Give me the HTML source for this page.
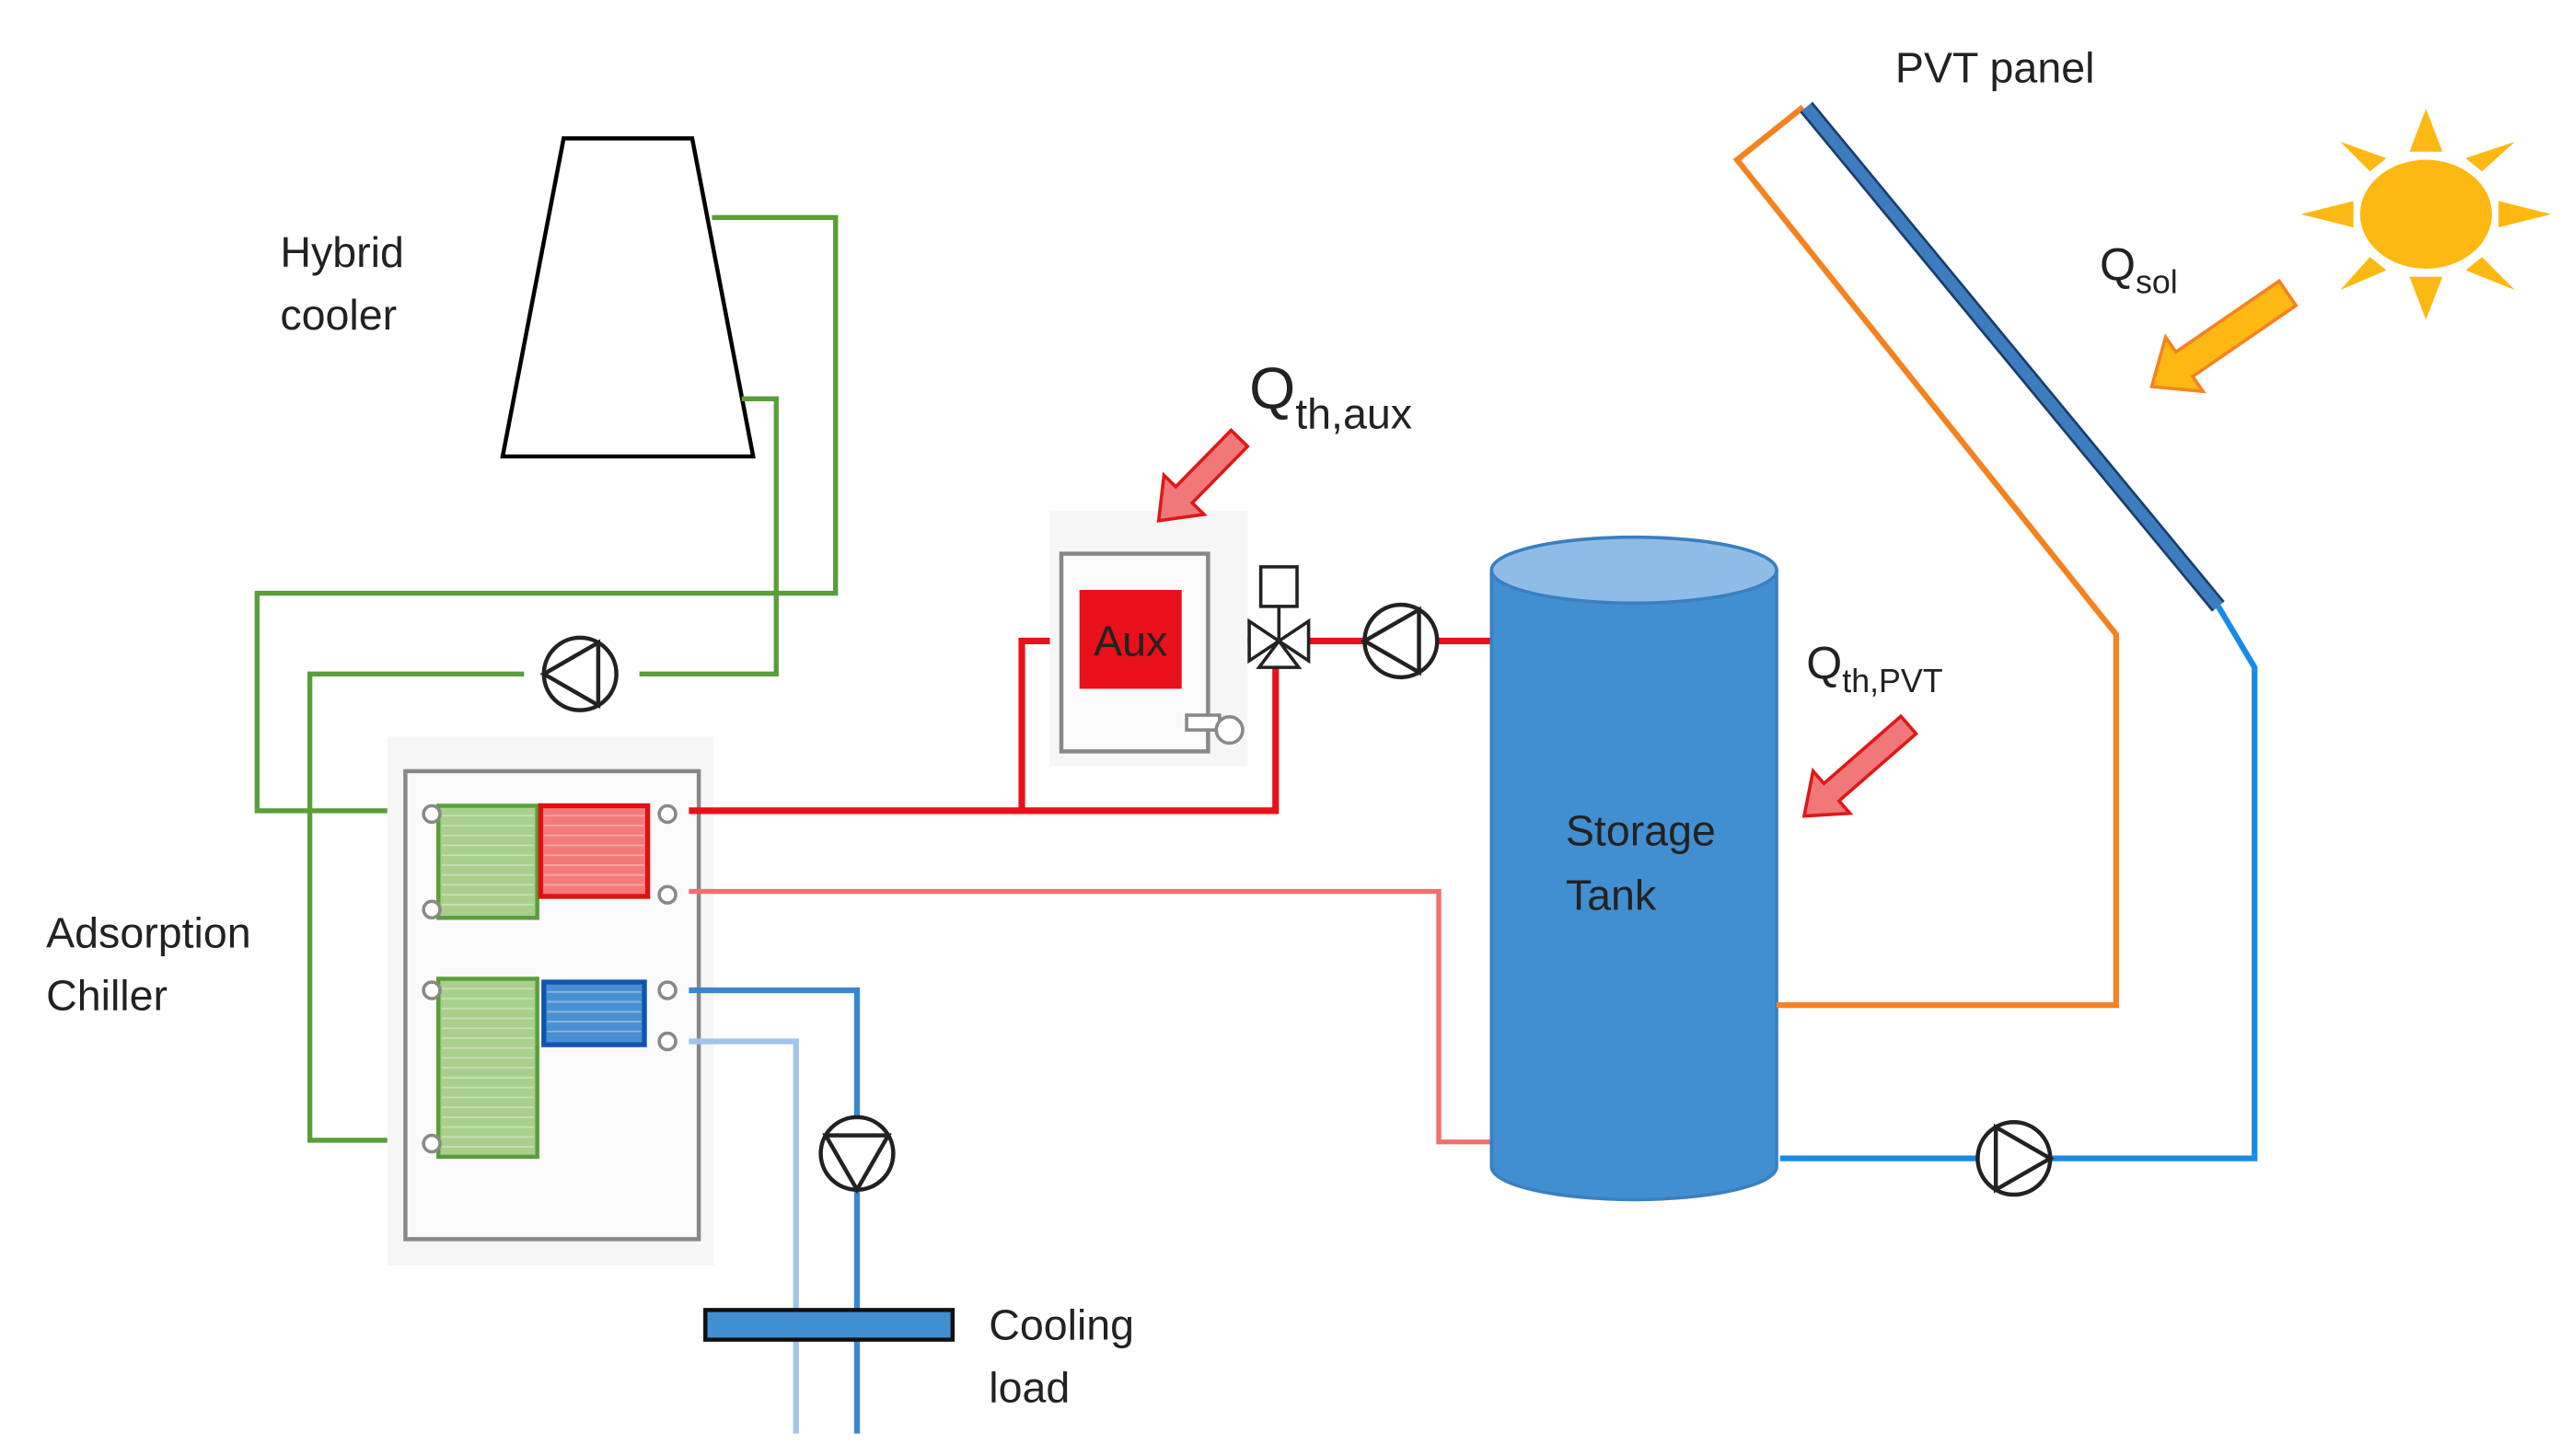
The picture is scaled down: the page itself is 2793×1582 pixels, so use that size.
<!DOCTYPE html>
<html><head><meta charset="utf-8"><style>
html,body{margin:0;padding:0;background:#fff;}
svg{display:block;}
text{font-family:"Liberation Sans",sans-serif;fill:#222;}
</style></head><body>
<svg width="2793" height="1582" viewBox="0 0 1560 883.6" preserveAspectRatio="none" xmlns="http://www.w3.org/2000/svg">
<polygon points="342,84 420,84 457,277 305,277" fill="#fff" stroke="#000" stroke-width="2.5"/>
<g fill="none" stroke="#5a9e3a" stroke-width="3">
<polyline points="432,132 507,132 507,360 156,360 156,492 262,492"/>
<polyline points="450,242 471,242 471,409 388,409"/>
<polyline points="318,409 188,409 188,692 262,692"/>
</g>
<circle cx="352" cy="409" r="22" fill="#fff" stroke="#222" stroke-width="2.5"/>
<polygon points="330,409 363,390 363,428" fill="none" stroke="#222" stroke-width="2.5"/>
<rect x="235" y="447" width="198" height="321" fill="#f6f6f6"/>
<rect x="246" y="468" width="178" height="284" fill="#fafafa" stroke="#888" stroke-width="2.5"/>
<rect x="266" y="489" width="60" height="68" fill="#a9cf8c" stroke="#5a9e3a" stroke-width="2.5"/>
<rect x="328" y="489" width="65" height="55" fill="#f47a7a" stroke="#e01010" stroke-width="3"/>
<rect x="266" y="594" width="60" height="108" fill="#a9cf8c" stroke="#5a9e3a" stroke-width="2.5"/>
<rect x="330" y="596" width="61" height="38" fill="#4a8fd0" stroke="#1055b0" stroke-width="3"/>
<g stroke="#ffffff" stroke-opacity="0.35" stroke-width="1">
<path d="M268 495h56M268 501h56M268 507h56M268 513h56M268 519h56M268 525h56M268 531h56M268 537h56M268 543h56M268 549h56"/>
<path d="M330 495h61M330 501h61M330 507h61M330 513h61M330 519h61M330 525h61M330 531h61M330 537h61"/>
<path d="M268 600h56M268 606h56M268 612h56M268 618h56M268 624h56M268 630h56M268 636h56M268 642h56M268 648h56M268 654h56M268 660h56M268 666h56M268 672h56M268 678h56M268 684h56M268 690h56M268 696h56"/>
<path d="M332 602h57M332 608h57M332 614h57M332 620h57M332 626h57"/>
</g>
<g fill="#fff" stroke="#888" stroke-width="2">
<circle cx="262" cy="494" r="5"/><circle cx="262" cy="552" r="5"/><circle cx="262" cy="601" r="5"/><circle cx="262" cy="694" r="5"/>
<circle cx="405" cy="494" r="5"/><circle cx="405" cy="543" r="5"/><circle cx="405" cy="601" r="5"/><circle cx="405" cy="632" r="5"/>
</g>
<g fill="none" stroke="#e8101a" stroke-width="4">
<polyline points="418,492 774,492 774,405"/>
<polyline points="620,492 620,389 655,389"/>
<line x1="717" y1="389" x2="760" y2="389"/>
<line x1="788" y1="389" x2="828" y2="389"/>
<line x1="872" y1="389" x2="905" y2="389"/>
</g>
<rect x="637" y="310" width="120" height="155" fill="#f6f6f6"/>
<rect x="644" y="336" width="89" height="120" fill="#fafafa" stroke="#888" stroke-width="2.5"/>
<rect x="655" y="358" width="62" height="60" fill="#e8101a"/>
<text x="686" y="398" font-size="26" text-anchor="middle" fill="#222">Aux</text>
<rect x="720" y="434" width="20" height="9" fill="#fff" stroke="#888" stroke-width="2"/>
<circle cx="746" cy="443" r="8" fill="#fff" stroke="#888" stroke-width="2"/>
<rect x="765" y="344" width="22" height="24" fill="#fff" stroke="#222" stroke-width="2"/>
<line x1="776" y1="368" x2="776" y2="389" stroke="#222" stroke-width="2"/>
<polygon points="758,377 776,389 758,401" fill="#fff" stroke="#222" stroke-width="2"/>
<polygon points="794,377 776,389 794,401" fill="#fff" stroke="#222" stroke-width="2"/>
<polygon points="764,405 776,389 788,405" fill="#fff" stroke="#222" stroke-width="2"/>
<circle cx="850" cy="389" r="22" fill="#fff" stroke="#222" stroke-width="2.5"/>
<polygon points="828,389 861,370 861,408" fill="none" stroke="#222" stroke-width="2.5"/>
<polyline points="418,541 873,541 873,693 906,693" fill="none" stroke="#f07070" stroke-width="3"/>
<polyline points="418,601 520,601 520,870" fill="none" stroke="#3a86d0" stroke-width="3.5"/>
<polyline points="418,632 483,632 483,870" fill="none" stroke="#a0c4ea" stroke-width="3.5"/>
<circle cx="520" cy="700" r="22" fill="#fff" stroke="#222" stroke-width="2.5"/>
<polygon points="520,722 501,689 539,689" fill="none" stroke="#222" stroke-width="2.5"/>
<rect x="428" y="795" width="150" height="18" fill="#418fd0" stroke="#111" stroke-width="2.5"/>
<path d="M905,346 L905,708 A86.5,20 0 0 0 1078,708 L1078,346 Z" fill="#418fd0" stroke="#3a7fbf" stroke-width="2"/>
<ellipse cx="991.5" cy="346" rx="86.5" ry="20" fill="#8fbce6" stroke="#3a7fbf" stroke-width="2"/>
<text x="950" y="513" font-size="26">Storage</text>
<text x="950" y="552" font-size="26">Tank</text>
<polyline points="1078,610 1284,610 1284,385 1054,97 1094,65" fill="none" stroke="#f58220" stroke-width="3.5"/>
<line x1="1096" y1="65" x2="1346" y2="368" stroke="#1a3e6a" stroke-width="10"/>
<line x1="1096" y1="65" x2="1346" y2="368" stroke="#3e7cc0" stroke-width="7"/>
<polyline points="1346,368 1368,405 1368,703 1244,703" fill="none" stroke="#1a8ae8" stroke-width="3.5"/>
<line x1="1200" y1="703" x2="1080" y2="703" stroke="#1a8ae8" stroke-width="3.5"/>
<circle cx="1222" cy="703" r="22" fill="#fff" stroke="#222" stroke-width="2.5"/>
<polygon points="1244,703 1211,684 1211,722" fill="none" stroke="#222" stroke-width="2.5"/>
<g fill="#fdb813">
<ellipse cx="1472" cy="130" rx="40" ry="33"/>
<polygon points="1462,92 1472,66 1482,92"/>
<polygon points="1462,168 1472,194 1482,168"/>
<polygon points="1428,122 1396,130 1428,138"/>
<polygon points="1516,122 1548,130 1516,138"/>
<polygon points="1438,104 1420,86 1448,96"/>
<polygon points="1506,104 1526,86 1496,96"/>
<polygon points="1438,156 1420,176 1448,164"/>
<polygon points="1506,156 1526,176 1496,164"/>
</g>
<g transform="translate(752,266) rotate(134.4)"><polygon points="0,-7 48,-7 48,-17 70,0 48,17 48,7 0,7" fill="#f07878" stroke="#e01818" stroke-width="2"/></g>
<g transform="translate(1388,178) rotate(145.5)"><polygon points="0,-9 76,-9 76,-20 100,0 76,20 76,9 0,9" fill="#fdb813" stroke="#f58220" stroke-width="2"/></g>
<g transform="translate(1158,440) rotate(138.9)"><polygon points="0,-7 62,-7 62,-17 84,0 62,17 62,7 0,7" fill="#f07878" stroke="#e01818" stroke-width="2"/></g>
<text x="170" y="162" font-size="26">Hybrid</text>
<text x="170" y="200" font-size="26">cooler</text>
<text x="28" y="575" font-size="26">Adsorption</text>
<text x="28" y="613" font-size="26">Chiller</text>
<text x="600" y="813" font-size="26">Cooling</text>
<text x="600" y="851" font-size="26">load</text>
<text x="1150" y="50" font-size="26">PVT panel</text>
<text x="758" y="248" font-size="36">Q<tspan font-size="26" dy="12">th,aux</tspan></text>
<text x="1274" y="170" font-size="28">Q<tspan font-size="20" dy="8">sol</tspan></text>
<text x="1096" y="412" font-size="28">Q<tspan font-size="20" dy="8">th,PVT</tspan></text>
</svg>
</body></html>
